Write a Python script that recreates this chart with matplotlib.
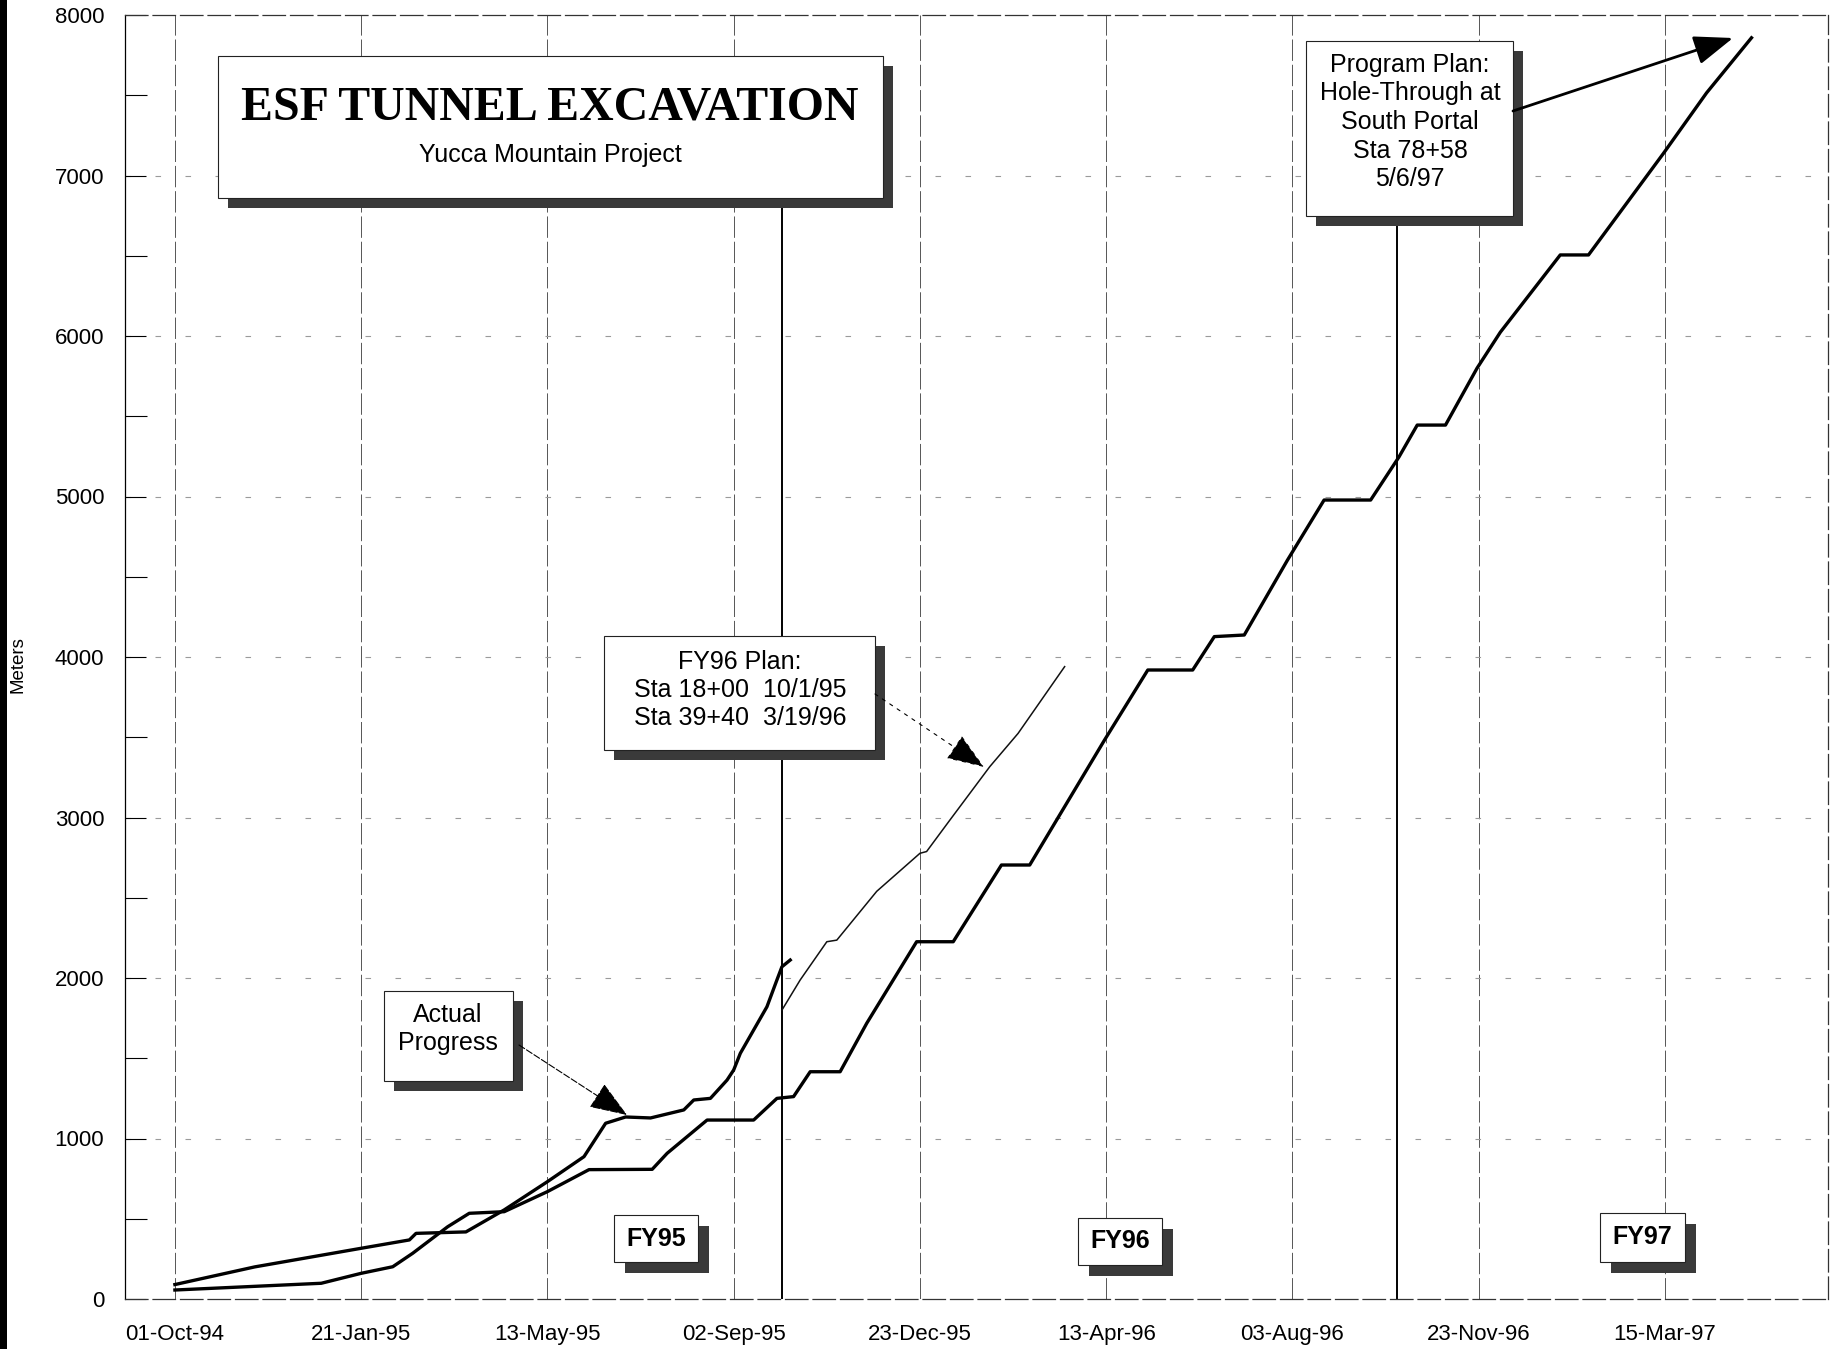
import matplotlib
matplotlib.use('Agg')
import matplotlib.pyplot as plt
import pandas as pd
from matplotlib.patches import Rectangle, FancyArrowPatch
from matplotlib.ticker import MultipleLocator

plt.rcParams['font.family'] = ['Liberation Sans', 'DejaVu Sans']

# ---------------- data ----------------
tick_labels = ['01-Oct-94', '21-Jan-95', '13-May-95', '02-Sep-95', '23-Dec-95',
               '13-Apr-96', '03-Aug-96', '23-Nov-96', '15-Mar-97']
y_ticks = [0, 1000, 2000, 3000, 4000, 5000, 6000, 7000, 8000]

actual_dates = ['1994-10-01', '1994-11-18', '1995-01-21', '1995-02-19', '1995-02-23',
                '1995-03-25', '1995-04-17', '1995-05-13', '1995-06-04', '1995-06-17',
                '1995-06-29', '1995-07-14', '1995-08-03', '1995-08-09', '1995-08-19',
                '1995-08-29', '1995-09-02', '1995-09-06', '1995-09-14', '1995-09-22',
                '1995-09-28', '1995-10-01', '1995-10-06']
actual_m = [90, 200, 316, 368, 409, 418, 555, 731, 887, 1095, 1134, 1128, 1178, 1240,
            1250, 1364, 1427, 1531, 1676, 1821, 1988, 2070, 2112]

plan_dates = ['1994-10-01', '1994-12-28', '1995-01-21', '1995-02-09', '1995-02-21',
              '1995-03-14', '1995-03-27', '1995-04-17', '1995-05-13', '1995-06-07',
              '1995-07-15', '1995-07-24', '1995-08-17', '1995-09-14', '1995-09-28',
              '1995-10-08', '1995-10-18', '1995-11-05', '1995-11-21', '1995-12-21',
              '1996-01-12', '1996-02-10', '1996-02-27', '1996-04-12', '1996-05-08',
              '1996-06-04', '1996-06-17', '1996-07-05', '1996-07-31', '1996-08-22',
              '1996-09-19', '1996-10-06', '1996-10-17', '1996-11-03', '1996-11-22',
              '1996-12-06', '1997-01-11', '1997-01-28', '1997-03-14', '1997-04-09',
              '1997-05-06']
plan_m = [56, 98, 160, 201, 285, 450, 534, 544, 669, 806, 808, 908, 1115, 1115, 1250,
          1261, 1416, 1416, 1718, 2226, 2226, 2704, 2704, 3483, 3919, 3919, 4127, 4137,
          4604, 4978, 4978, 5246, 5445, 5445, 5800, 6024, 6505, 6505, 7137, 7515, 7858]

fy96_dates = ['1995-10-01', '1995-10-12', '1995-10-28', '1995-11-03', '1995-11-27',
              '1995-12-23', '1995-12-27', '1996-01-10', '1996-02-03', '1996-02-20',
              '1996-03-19']
fy96_m = [1800, 1988, 2226, 2236, 2540, 2777, 2788, 2984, 3317, 3524, 3940]

fy_boundary_dates = ['1995-10-01', '1996-10-05']
fy_boundary_top = 7000

# ---------------- figure ----------------
W, H = 1830, 1349
fig = plt.figure(figsize=(W / 100, H / 100), dpi=100)
fig.patch.set_facecolor('white')

L, R, T, B = 125, 1828, 15, 1299
ax = fig.add_axes([L / W, (H - B) / H, (R - L) / W, (B - T) / H])

tick_dates = pd.to_datetime(tick_labels, format='%d-%b-%y')

# grid
for d in tick_dates:
    ax.axvline(d, color='#555555', lw=0.7, dashes=(22, 4), zorder=1)
for v in y_ticks[1:-1]:
    ax.axhline(v, color='#9a9a9a', lw=0.8, dashes=(5, 22), zorder=1)

# FY boundary lines
for d in pd.to_datetime(fy_boundary_dates):
    ax.plot([d, d], [0, fy_boundary_top], color='k', lw=1.4, zorder=2)

ax.plot(pd.to_datetime(fy96_dates), fy96_m, color='#111111', lw=1.1, zorder=3)
ax.plot(pd.to_datetime(plan_dates), plan_m, color='k', lw=2.4, zorder=4,
        solid_joinstyle='round')
ax.plot(pd.to_datetime(actual_dates), actual_m, color='k', lw=2.4, zorder=5,
        solid_joinstyle='round')

ax.set_xlim(pd.Timestamp('1994-09-01'), pd.Timestamp('1997-06-21'))
ax.set_ylim(0, 8000)
ax.set_xticks(tick_dates)
ax.set_xticklabels(tick_labels)
ax.set_yticks(y_ticks)
ax.set_yticklabels([str(v) for v in y_ticks])
ax.yaxis.set_minor_locator(MultipleLocator(500))
ax.tick_params(axis='x', length=0, pad=18, labelsize=16)
ax.tick_params(axis='y', which='major', direction='in', length=15, width=0.8,
               pad=15, labelsize=16)
ax.tick_params(axis='y', which='minor', direction='in', length=16, width=0.8)

for side in ['top', 'bottom', 'right']:
    ax.spines[side].set_linestyle((0, (18, 4)))
    ax.spines[side].set_linewidth(0.9)
    ax.spines[side].set_color('#333333')
ax.spines['left'].set_linewidth(0.9)

fig.text(18 / W, 1 - 665 / H, 'Meters', rotation=90, fontsize=13.5,
         ha='center', va='center')

# scan edge strip
fig.add_artist(Rectangle((0, 0), 7 / W, 1, transform=fig.transFigure,
                         facecolor='k', edgecolor='none'))


# ---------------- annotation boxes ----------------
def fx(x):
    return x / W


def fy(y):
    return 1 - y / H


def shadow_box(x0, y0, x1, y1, off=10):
    fig.add_artist(Rectangle((fx(x0 + off), fy(y1 + off)), (x1 - x0) / W, (y1 - y0) / H,
                             transform=fig.transFigure, facecolor='#3a3a3a',
                             edgecolor='none', zorder=5))
    fig.add_artist(Rectangle((fx(x0), fy(y1)), (x1 - x0) / W, (y1 - y0) / H,
                             transform=fig.transFigure, facecolor='white',
                             edgecolor='#222222', lw=0.8, zorder=6))


def label(x, y, s, **kw):
    fig.text(fx(x), fy(y), s, ha='center', va='center', zorder=7,
             multialignment='center', **kw)


# title box
shadow_box(218, 56, 883, 198)
label(550, 108, 'ESF TUNNEL EXCAVATION', fontsize=34.5, fontweight='bold',
      family='Liberation Serif')
label(550, 155, 'Yucca Mountain Project', fontsize=18)

# program plan box
shadow_box(1306, 41, 1513, 216)
label(1410, 122, 'Program Plan:\nHole-Through at\nSouth Portal\nSta 78+58\n5/6/97',
      fontsize=18, linespacing=1.24)

# FY96 plan box
shadow_box(604, 636, 875, 750)
label(740, 690, 'FY96 Plan:\nSta 18+00  10/1/95\nSta 39+40  3/19/96',
      fontsize=18, linespacing=1.22)

# actual progress box
shadow_box(384, 991, 513, 1081)
label(448, 1029, 'Actual\nProgress', fontsize=18, linespacing=1.2)

# FY labels
fy_labels = ['FY95', 'FY96', 'FY97']
fy_boxes = [(614, 1215, 698, 1262), (1078, 1218, 1162, 1265), (1600, 1213, 1685, 1262)]
for s, (x0, y0, x1, y1) in zip(fy_labels, fy_boxes):
    shadow_box(x0, y0, x1, y1, off=11)
    label((x0 + x1) / 2, (y0 + y1) / 2, s, fontsize=18, fontweight='bold')


# arrows
def arrow(p0, p1, lw, ls, color='k'):
    fig.add_artist(FancyArrowPatch((fx(p0[0]), fy(p0[1])), (fx(p1[0]), fy(p1[1])),
                                   transform=fig.transFigure,
                                   arrowstyle='-|>,head_length=1.2,head_width=0.45',
                                   mutation_scale=20, lw=lw, linestyle=ls,
                                   color=color, shrinkA=0, shrinkB=0, zorder=8))


arrow((1513, 111), (1733, 38), 2.0, '-')
arrow((875, 694), (984, 767), 0.8, (0, (3, 5)))
arrow((519, 1045), (627, 1115), 0.8, (0, (6, 2)))

fig.savefig('out.png', dpi=100)
